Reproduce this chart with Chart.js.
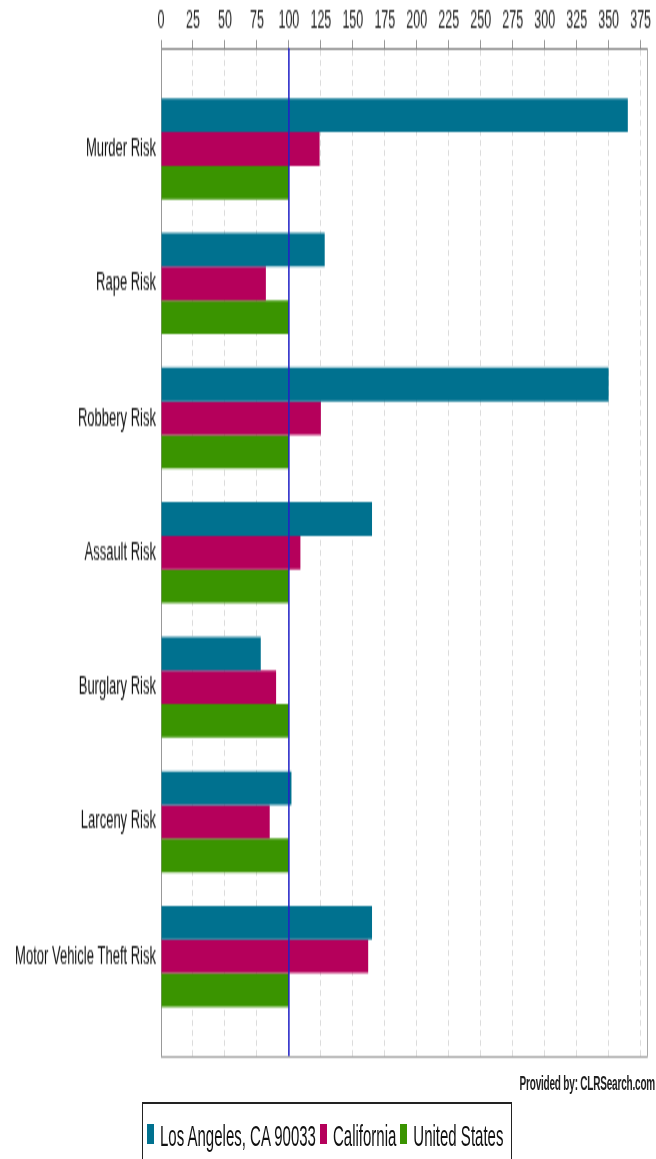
<!DOCTYPE html>
<html>
<head>
<meta charset="utf-8">
<script src="https://cdn.jsdelivr.net/npm/chart.js@4.4.1/dist/chart.umd.min.js"></script>
<style>
  html, body { margin: 0; padding: 0; background: #fff; }
  #outer { position: relative; width: 656px; height: 1159px; }
  #wrap { position: absolute; left: 0; top: 0; width: 656px; height: 580px; transform: scaleY(2); transform-origin: 0 0; font-family: "Liberation Sans", Arial, sans-serif; }
  #riskChart { display: block; }
  #provided { position: absolute; right: 1px; top: 536px; font-size: 10px; font-weight: bold; color: #222; letter-spacing: -0.2px; }
  #legend { position: absolute; left: 142px; top: 551px; height: 32px; padding: 0 4px; border: 1px solid #222; display: flex; align-items: center; font-size: 15px; color: #111; box-sizing: border-box; }
  #legend .item { display: flex; align-items: center; margin-right: 4px; }
  #legend .box { width: 7px; height: 10px; margin-right: 6px; }
</style>
</head>
<body>
<div id="outer">
<div id="wrap">
  <canvas id="riskChart" width="656" height="535"></canvas>
  <div id="provided">Provided by: CLRSearch.com</div>
  <div id="legend"></div>
</div>
</div>
<script>
// crime risk index, 100 = national average
var categories = ["Murder Risk", "Rape Risk", "Robbery Risk", "Assault Risk", "Burglary Risk", "Larceny Risk", "Motor Vehicle Theft Risk"];
var seriesNames = ["Los Angeles, CA 90033", "California", "United States"];
var losAngeles = [365, 128, 350, 165, 78, 102, 165];
var california = [124, 82, 125, 109, 90, 85, 162];
var unitedStates = [100, 100, 100, 100, 100, 100, 100];
var seriesColors = ["#00718f", "#b5005b", "#3a9400"];
var xTickValues = [0, 25, 50, 75, 100, 125, 150, 175, 200, 225, 250, 275, 300, 325, 350, 375];
var referenceValue = 100;

var toPoints = function(values){
	return values.map(function(v, i){ return { x: v, y: i }; });
};

var allSeries = [losAngeles, california, unitedStates];
var datasets = allSeries.map(function(values, s){
	return {
		label: seriesNames[s],
		data: toPoints(values),
		backgroundColor: seriesColors[s],
		borderWidth: 0,
		categoryPercentage: 0.75,
		barPercentage: 1.0
	};
});

// right/bottom frame + the blue national average line
var framePlugin = {
	id: 'frame',
	afterDatasetsDraw: function(chart){
		var ctx = chart.ctx, a = chart.chartArea;
		ctx.save();
		ctx.strokeStyle = '#a8a8a8';
		ctx.lineWidth = 1;
		ctx.beginPath();
		ctx.moveTo(a.right + 0.5, a.top);
		ctx.lineTo(a.right + 0.5, a.bottom + 0.5);
		ctx.lineTo(a.left, a.bottom + 0.5);
		ctx.stroke();
		var px = chart.scales.x.getPixelForValue(referenceValue);
		ctx.strokeStyle = '#2020c8';
		ctx.lineWidth = 1.5;
		ctx.beginPath();
		ctx.moveTo(px, a.top);
		ctx.lineTo(px, a.bottom);
		ctx.stroke();
		ctx.restore();
	}
};

var ctx = document.getElementById('riskChart').getContext('2d');
var riskChart = new Chart(ctx, {
	type: 'bar',
	data: { datasets: datasets },
	plugins: [framePlugin],
	options: {
		indexAxis: 'y',
		responsive: false,
		devicePixelRatio: 1,
		animation: false,
		layout: { padding: { top: 0, right: 9, bottom: 7, left: 0 } },
		plugins: {
			legend: { display: false },
			tooltip: { enabled: false }
		},
		scales: {
			x: {
				type: 'linear',
				position: 'top',
				min: 0,
				max: 380,
				afterBuildTicks: function(scale){
					scale.ticks = xTickValues.map(function(v){ return { value: v }; });
				},
				afterFit: function(scale){ scale.height = 24; },
				grid: { color: '#dcdcdc', lineWidth: 1, borderDash: [3, 2], tickColor: '#999', tickLength: 4, drawTicks: true },
				border: { display: true, color: '#888', width: 1, dash: [3, 2] },
				ticks: {
					autoSkip: false,
					maxRotation: 0,
					padding: 2,
					color: '#222',
					font: { family: '"Liberation Sans", Arial, sans-serif', size: 12.5 }
				}
			},
			y: {
				type: 'linear',
				reverse: true,
				offset: false,
				min: -0.75,
				max: 6.74,
				afterBuildTicks: function(scale){
					scale.ticks = categories.map(function(c, i){ return { value: i }; });
				},
				afterFit: function(scale){
					scale.width = 161;
					scale.paddingTop = 0;
					scale.paddingBottom = 0;
				},
				grid: { display: false, drawTicks: false, offset: false },
				border: { display: true, color: '#999', width: 1 },
				ticks: {
					autoSkip: false,
					padding: 5,
					color: '#111',
					font: { family: '"Liberation Sans", Arial, sans-serif', size: 13 },
					callback: function(value){ return categories[value]; }
				}
			}
		}
	}
});

// legend drawn as html, from the same arrays
var legendEl = document.getElementById('legend');
seriesNames.forEach(function(name, s){
	var item = document.createElement('div');
	item.className = 'item';
	var box = document.createElement('span');
	box.className = 'box';
	box.style.background = seriesColors[s];
	var txt = document.createElement('span');
	txt.textContent = name;
	item.appendChild(box);
	item.appendChild(txt);
	legendEl.appendChild(item);
});
</script>
</body>
</html>
